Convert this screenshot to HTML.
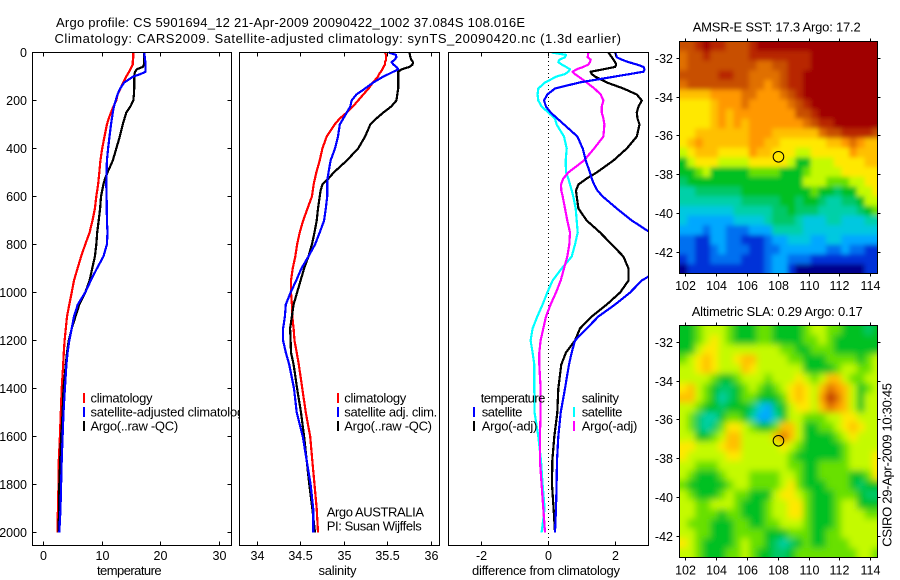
<!DOCTYPE html>
<html>
<head>
<meta charset="utf-8">
<title>Argo profile</title>
<style>
html,body{margin:0;padding:0;background:#fff;}
svg{display:block;}
text{font-family:"Liberation Sans",sans-serif;font-size:13px;fill:#000;}
</style>
</head>
<body>
<svg id="figure" xmlns="http://www.w3.org/2000/svg" width="900" height="580" viewBox="0 0 900 580">
  <defs>
    <clipPath id="clip-diff"><rect x="449" y="53" width="199" height="492"/></clipPath>
    <clipPath id="clip-sst"><rect x="680" y="42" width="197" height="231"/></clipPath>
    <clipPath id="clip-sla"><rect x="680" y="326" width="197" height="231"/></clipPath>
    <filter id="soften-sst" filterUnits="userSpaceOnUse" x="660" y="20" width="240" height="280"><feGaussianBlur stdDeviation="2.4"/></filter>
    <filter id="soften-sla" filterUnits="userSpaceOnUse" x="660" y="300" width="240" height="280"><feGaussianBlur stdDeviation="3.4"/></filter>
  </defs>
  <rect x="0" y="0" width="900" height="580" fill="#fff"/>
  <text x="56" y="27" textLength="469" lengthAdjust="spacing">Argo profile: CS 5901694_12 21-Apr-2009 20090422_1002 37.084S 108.016E</text>
  <text x="54.5" y="43" textLength="566.5" lengthAdjust="spacing">Climatology: CARS2009. Satellite-adjusted climatology: synTS_20090420.nc (1.3d earlier)</text>

  <g id="panel-temp">
    <rect x="32.5" y="52.5" width="199" height="493" fill="#fff"/>
    <g id="temp-lines"></g>
    <g>
      <rect x="83" y="393" width="2" height="10" fill="#ff0000"/>
      <text x="90.5" y="402.5" textLength="62" lengthAdjust="spacing">climatology</text>
      <rect x="83" y="407" width="2" height="10" fill="#0000ff"/>
      <text x="90.5" y="416.5" textLength="160" lengthAdjust="spacing">satellite-adjusted climatology</text>
      <rect x="83" y="421" width="2" height="10" fill="#000"/>
      <text x="90.5" y="430.5" textLength="87.7" lengthAdjust="spacing">Argo(..raw -QC)</text>
    </g>
    <text x="129.3" y="575" text-anchor="middle" textLength="64.7" lengthAdjust="spacing">temperature</text>
  </g>

  <g id="panel-sal">
    <rect x="240" y="52.5" width="199.5" height="493" fill="#fff" stroke="none"/>
    <rect x="239.5" y="52.5" width="200" height="493" fill="none"/>
    <g id="sal-lines"></g>
    <g>
      <rect x="337" y="393" width="2" height="10" fill="#ff0000"/>
      <text x="344.3" y="402.5" textLength="62" lengthAdjust="spacing">climatology</text>
      <rect x="337" y="407" width="2" height="10" fill="#0000ff"/>
      <text x="344.3" y="416.5" textLength="93" lengthAdjust="spacing">satellite adj. clim.</text>
      <rect x="337" y="421" width="2" height="10" fill="#000"/>
      <text x="344.3" y="430.5" textLength="87.7" lengthAdjust="spacing">Argo(..raw -QC)</text>
    </g>
    <text x="326.7" y="516.5" textLength="97.3" lengthAdjust="spacing">Argo AUSTRALIA</text>
    <text x="326.7" y="530.5" textLength="95" lengthAdjust="spacing">PI: Susan Wijffels</text>
    <text x="337.5" y="575" text-anchor="middle" textLength="38" lengthAdjust="spacing">salinity</text>
  </g>

  <g id="panel-diff">
    <rect x="448.5" y="52.5" width="200" height="493" fill="#fff"/>
    <g id="diff-zero"></g>
    <g id="diff-lines" clip-path="url(#clip-diff)"></g>
    <g>
      <text x="480.7" y="402.5" textLength="64.7" lengthAdjust="spacing">temperature</text>
      <rect x="473" y="407" width="2" height="10" fill="#0000ff"/>
      <text x="481.7" y="416.5" textLength="40.7" lengthAdjust="spacing">satellite</text>
      <rect x="473" y="421" width="2" height="10" fill="#000"/>
      <text x="481.7" y="430.5" textLength="55.7" lengthAdjust="spacing">Argo(-adj)</text>
      <text x="581.7" y="402.5" textLength="37.3" lengthAdjust="spacing">salinity</text>
      <rect x="573" y="407" width="2" height="10" fill="#00ffff"/>
      <text x="581.7" y="416.5" textLength="40.7" lengthAdjust="spacing">satellite</text>
      <rect x="573" y="421" width="2" height="10" fill="#ff00ff"/>
      <text x="581.7" y="430.5" textLength="55.7" lengthAdjust="spacing">Argo(-adj)</text>
    </g>
    <text x="546" y="575" text-anchor="middle" textLength="148" lengthAdjust="spacing">difference from climatology</text>
  </g>

  <g id="map-sst">
    <text x="692.7" y="31.5" textLength="168" lengthAdjust="spacing">AMSR-E SST: 17.3 Argo: 17.2</text>
    <g clip-path="url(#clip-sst)"><g id="sst-cells" filter="url(#soften-sst)"></g></g>
  </g>
  <g id="map-sla">
    <text x="691.7" y="316" textLength="171" lengthAdjust="spacing">Altimetric SLA: 0.29 Argo: 0.17</text>
    <g clip-path="url(#clip-sla)"><g id="sla-cells" filter="url(#soften-sla)"></g></g>
  </g>
  <text transform="translate(891.5,546.7) rotate(-90)" x="0" y="0" textLength="163.7" lengthAdjust="spacing">CSIRO 29-Apr-2009 10:30:45</text>
  <g id="axes-layer"></g>
</svg>
<script>
const depths=[0,10,20,30,40,50,60,70,80,90,100,125,150,175,200,225,250,275,300,350,400,450,500,525,550,575,600,650,700,750,800,850,900,950,1000,1050,1100,1150,1200,1250,1300,1400,1500,1600,1700,1800,1900,2000];

const tempClim=[15.3,15.3,15.3,15.25,15.2,15.2,15.0,14.8,14.6,14.35,14.1,13.6,13.1,12.6,12.4,11.9,11.5,11.1,10.8,10.4,10.0,9.7,9.5,9.4,9.3,9.15,9.0,8.75,8.35,7.85,7.1,6.4,5.8,5.2,4.8,4.4,4.0,3.8,3.6,3.45,3.35,3.1,2.95,2.8,2.6,2.55,2.45,2.4];
const tempArgo=[17.15,17.15,17.15,17.15,17.15,17.15,16.9,15.9,15.6,15.5,15.45,15.45,15.45,15.4,15.3,14.8,14.1,13.8,13.5,13,12.4,11.8,10.9,10.5,10.2,10,9.8,9.65,9.4,9.15,9,8.75,8.3,7.85,7.1,6.1,5.45,4.8,4.3,4,3.8,3.4,3.25,3,2.85,2.7,2.65,2.55];
const tempSat=[17.15,17.2,17.25,17.3,17.35,17.4,17.4,17.4,17.4,16.5,15.3,13.75,13.05,12.6,12.3,12,11.8,11.65,11.5,11.25,11,10.8,10.75,10.72,10.7,10.72,10.75,10.78,10.8,10.9,10.8,10.2,9.1,8.05,7.1,5.85,5.2,4.8,4.4,4.1,3.9,3.65,3.4,3.25,3.1,3,2.9,2.7];

const salClim=[35.47,35.48,35.48,35.48,35.47,35.47,35.45,35.44,35.42,35.40,35.39,35.33,35.28,35.22,35.16,35.10,35.03,34.95,34.89,34.80,34.75,34.72,34.68,34.665,34.65,34.64,34.63,34.58,34.53,34.49,34.46,34.44,34.41,34.39,34.39,34.40,34.405,34.42,34.43,34.455,34.48,34.52,34.56,34.61,34.635,34.66,34.685,34.70];
const salArgo=[35.75,35.755,35.76,35.77,35.79,35.785,35.75,35.66,35.62,35.62,35.62,35.62,35.62,35.61,35.6,35.54,35.45,35.37,35.30,35.24,35.16,35.03,34.88,34.82,34.75,34.73,34.72,34.70,34.685,34.66,34.63,34.59,34.54,34.50,34.46,34.42,34.40,34.38,34.385,34.39,34.42,34.46,34.505,34.54,34.57,34.60,34.635,34.665];
const salSat=[35.51,35.595,35.6,35.58,35.545,35.565,35.6,35.62,35.565,35.51,35.45,35.335,35.24,35.14,35.085,35.07,35.03,34.99,34.95,34.93,34.895,34.845,34.82,34.81,34.805,34.805,34.805,34.79,34.77,34.72,34.665,34.59,34.51,34.45,34.385,34.33,34.32,34.30,34.30,34.33,34.37,34.425,34.455,34.525,34.57,34.615,34.645,34.645];

const diffTempSat=[2.0,2.03,2.05,2.2,2.4,2.65,2.85,2.88,2.85,2.43,2.0,0.93,0.2,-0.03,-0.13,-0.07,0.07,0.27,0.47,0.87,1.03,1.12,1.25,1.3,1.37,1.47,1.63,2.05,2.5,3.05,3.6,3.8,3.4,2.8,2.45,2.0,1.5,1.15,0.8,0.7,0.62,0.5,0.37,0.3,0.26,0.25,0.23,0.2];
const diffTempArgo=[1.8,1.85,1.9,1.95,2.0,2.03,2.0,1.65,1.27,1.3,1.4,1.75,2.25,2.65,2.8,2.7,2.65,2.67,2.73,2.65,2.35,1.95,1.45,1.15,0.9,0.83,0.85,0.9,1.15,1.55,1.9,2.25,2.4,2.4,2.15,1.75,1.3,0.95,0.8,0.53,0.39,0.3,0.27,0.18,0.12,0.11,0.16,0.2];
const diffSalSat=[0.1,0.53,0.5,0.33,0.3,0.4,0.53,0.65,0.6,0.5,0.25,-0.1,-0.3,-0.32,-0.3,-0.2,0,0.2,0.25,0.47,0.55,0.52,0.53,0.6,0.65,0.7,0.75,0.82,0.85,0.88,0.8,0.7,0.4,0.13,-0.03,-0.17,-0.33,-0.47,-0.53,-0.47,-0.42,-0.42,-0.41,-0.3,-0.22,-0.17,-0.11,-0.2];
const diffSalArgo=[1.2,1.19,1.18,1.27,1.25,1.2,1.05,0.85,0.73,0.8,0.9,1.15,1.38,1.57,1.65,1.6,1.6,1.65,1.68,1.65,1.37,1.07,0.6,0.45,0.38,0.39,0.43,0.5,0.57,0.65,0.63,0.57,0.47,0.37,0.23,0.07,-0.07,-0.15,-0.23,-0.27,-0.27,-0.23,-0.23,-0.25,-0.25,-0.2,-0.15,-0.1];

const depthTicks=[0,200,400,600,800,1000,1200,1400,1600,1800,2000];
const tempTicks=[0,10,20,30];
const salTicks=['34','34.5','35','35.5','36'];
const diffTicks=[-2,0,2];
const lonTicks=[102,104,106,108,110,112,114];
const latTicks=[-32,-34,-36,-38,-40,-42];

const mapLons=[101.85,102.35,102.85,103.35,103.85,104.35,104.85,105.35,105.85,106.35,106.85,107.35,107.85,108.35,108.85,109.35,109.85,110.35,110.85,111.35,111.85,112.35,112.85,113.35,113.85,114.35];
const mapLats=[-31.37,-31.87,-32.37,-32.87,-33.37,-33.87,-34.37,-34.87,-35.37,-35.87,-36.37,-36.87,-37.37,-37.87,-38.37,-38.87,-39.37,-39.87,-40.37,-40.87,-41.37,-41.87,-42.37,-42.87];
const floatLon=[108.016];
const floatLat=[-37.084];

const colorLevels=['#00008c','#0030d8','#0070f0','#00a8ff','#00c8e0','#00d0a8','#00c868','#00c020','#68e000','#c4fa00','#ffe800','#ffc000','#ff9800','#e07000','#c85000','#b82800','#a00000'];

const sstLevels=[
[14,14,15,16,15,15,14,14,14,15,16,16,16,16,16,16,16,16,16,16,16,16,16,16,16,16],
[13,14,14,15,14,14,14,14,14,15,15,15,15,15,15,15,15,16,16,16,16,16,16,16,16,16],
[13,14,14,14,14,14,14,14,14,14,13,13,14,14,15,15,15,16,16,16,16,16,16,16,16,16],
[14,14,14,14,14,15,15,14,14,13,13,13,13,14,15,15,16,16,16,16,16,16,16,16,16,16],
[13,14,14,14,14,14,14,14,14,13,13,12,13,14,15,15,16,16,16,16,16,16,16,16,16,16],
[11,11,11,11,12,12,12,12,13,13,12,12,12,13,14,15,16,16,16,16,16,16,16,16,16,16],
[10,10,10,10,11,12,12,12,13,12,12,12,12,12,13,14,15,16,16,16,16,16,16,16,16,16],
[10,10,10,10,11,12,11,12,12,12,12,12,12,12,12,14,14,15,16,16,16,16,16,16,16,16],
[10,10,10,10,11,12,11,12,11,12,12,12,12,12,12,12,13,14,15,15,16,16,16,16,16,16],
[10,10,11,11,11,11,11,11,11,12,12,12,11,11,11,11,11,11,13,14,14,15,15,15,15,14],
[10,11,12,11,11,11,11,11,11,12,12,11,11,10,10,10,10,10,10,11,11,12,13,12,11,11],
[9,10,11,11,11,10,10,10,10,12,11,11,10,10,10,9,9,10,10,10,10,10,12,11,11,11],
[7,9,10,10,10,9,9,9,9,10,10,10,10,10,9,7,7,9,9,9,10,10,10,10,11,11],
[7,7,8,9,7,7,7,7,7,8,8,8,8,7,7,7,8,9,9,9,9,10,10,10,10,10],
[6,7,7,7,7,7,7,7,7,7,7,7,7,7,7,7,9,9,9,8,8,8,9,9,10,10],
[5,5,6,6,6,6,6,6,7,7,7,7,7,7,7,7,7,8,7,7,6,7,7,9,9,10],
[5,5,5,5,5,5,5,5,6,6,6,6,6,7,7,6,7,7,6,5,5,6,6,7,9,9],
[4,4,4,4,4,4,4,5,5,5,5,5,6,6,7,6,6,6,5,5,5,5,5,6,7,8],
[4,3,3,3,3,3,3,4,4,4,4,5,6,6,6,5,4,4,4,5,5,4,4,4,5,5],
[3,3,3,2,3,3,2,2,2,3,3,3,5,5,5,5,4,4,4,4,4,4,4,4,4,4],
[2,2,1,1,3,3,2,2,1,1,1,2,3,3,4,4,4,3,3,4,4,3,3,3,3,3],
[2,2,1,1,2,3,2,2,2,1,1,2,2,3,3,3,3,3,3,2,2,3,2,2,1,1],
[1,2,1,1,2,2,2,2,1,1,1,2,3,3,2,2,2,1,1,1,1,1,1,1,1,1],
[0,1,1,1,1,1,1,1,1,1,1,2,3,3,1,0,0,0,0,0,0,0,0,0,1,1]
];

const slaLevels=[
[7,7,8,9,9,9,8,7,7,7,8,8,7,7,7,7,8,9,9,8,8,7,7,7,6,7],
[7,7,8,9,10,9,8,7,7,7,8,8,7,7,7,7,8,8,9,8,7,7,7,7,7,7],
[7,7,9,10,10,9,9,9,9,9,9,9,9,8,8,7,7,8,8,8,7,7,7,7,7,7],
[8,9,10,11,10,9,9,10,11,11,9,9,9,9,8,8,7,7,7,8,8,8,8,7,8,9],
[9,9,10,11,10,9,9,9,11,10,9,9,9,9,9,9,7,7,7,7,8,9,9,8,8,9],
[9,9,9,9,8,7,7,8,9,9,9,8,9,9,9,10,9,8,9,11,11,9,8,8,9,9],
[10,11,9,8,7,6,6,7,8,9,8,7,8,9,10,11,10,9,11,13,12,11,9,7,8,9],
[11,11,9,8,7,5,6,7,8,8,7,7,7,8,10,11,10,9,12,15,13,11,9,7,9,9],
[9,9,8,7,7,6,7,7,7,6,4,3,6,7,9,10,10,9,11,13,12,11,9,7,9,9],
[9,8,6,5,5,7,8,8,7,5,3,3,5,7,9,9,8,8,8,9,9,10,10,9,9,9],
[9,8,6,5,6,8,10,10,9,8,7,7,8,11,11,9,7,7,8,8,9,10,11,10,9,9],
[9,9,7,7,8,9,11,11,9,9,9,9,11,13,11,9,7,7,7,7,8,9,10,9,9,9],
[10,10,9,9,9,10,11,11,9,9,9,9,9,10,9,8,7,7,7,7,7,8,9,9,9,9],
[10,9,9,9,9,9,10,10,9,9,9,9,9,9,8,7,7,7,7,7,7,8,9,9,9,10],
[9,9,8,8,8,9,9,9,9,9,9,9,9,9,8,8,7,7,8,8,8,8,9,9,9,10],
[9,8,7,7,7,8,9,9,9,8,8,8,8,9,9,8,7,7,8,8,8,8,7,7,8,10],
[8,7,7,7,7,7,8,9,9,8,8,8,8,9,10,8,7,7,7,8,8,8,7,6,7,7],
[9,8,7,7,7,8,9,8,8,7,7,7,9,10,10,9,8,7,7,7,8,8,8,7,6,6],
[9,9,8,8,9,9,9,8,7,7,7,8,9,9,10,10,8,7,7,7,8,9,9,7,7,7],
[9,9,8,8,8,7,8,8,7,7,7,8,9,9,10,10,8,7,7,7,8,9,9,9,8,8],
[9,8,8,8,7,7,7,8,8,7,7,8,8,9,9,9,8,7,7,7,8,9,9,9,9,9],
[9,9,8,8,7,7,7,8,8,8,8,7,7,7,8,8,8,7,7,8,8,9,9,9,9,9],
[10,9,8,7,7,7,7,8,9,8,8,7,6,5,6,7,8,7,7,8,8,8,9,9,9,9],
[9,9,8,7,7,7,8,8,9,8,7,7,6,6,7,8,8,8,8,8,8,8,8,9,9,8]
];

const NS='http://www.w3.org/2000/svg';
const depthY=d=>52.5+0.24*d;
const tempX=v=>43.5+5.87*v;
const salX=v=>257+87.15*(v-34);
const diffX=v=>548.3+33.4*v;
const lonX=lon=>685.7+(lon-102)*15.42;
const sstY=lat=>58.3+(-32-lat)*19.37;
const slaY=lat=>342.3+(-32-lat)*19.37;

function make(tag,parent,attrs){
  const el=document.createElementNS(NS,tag);
  for(const k in attrs){el.setAttribute(k,attrs[k]);}
  parent.appendChild(el);
  return el;
}

function drawProfile(parentId,xFn,values,color,name){
  const pts=values.map((v,i)=>xFn(v).toFixed(1)+','+depthY(depths[i]).toFixed(1)).join(' ');
  const line=make('polyline',document.getElementById(parentId),{points:pts,fill:'none',stroke:color,'stroke-width':2.2,'shape-rendering':'crispEdges','stroke-linejoin':'round'});
  
  
}

drawProfile('temp-lines',tempX,tempClim,'#ff0000','temperature-climatology-line');
drawProfile('temp-lines',tempX,tempArgo,'#000000','temperature-argo-line');
drawProfile('temp-lines',tempX,tempSat,'#0000ff','temperature-satellite-line');
drawProfile('sal-lines',salX,salClim,'#ff0000','salinity-climatology-line');
drawProfile('sal-lines',salX,salArgo,'#000000','salinity-argo-line');
drawProfile('sal-lines',salX,salSat,'#0000ff','salinity-satellite-line');
drawProfile('diff-lines',diffX,diffTempArgo,'#000000','difference-temperature-argo-line');
drawProfile('diff-lines',diffX,diffSalSat,'#00ffff','difference-salinity-satellite-line');
drawProfile('diff-lines',diffX,diffSalArgo,'#ff00ff','difference-salinity-argo-line');
drawProfile('diff-lines',diffX,diffTempSat,'#0000ff','difference-temperature-satellite-line');

const zeroLine=make('line',document.getElementById('diff-zero'),{x1:Math.round(diffX(0))+0.5,x2:Math.round(diffX(0))+0.5,y1:53,y2:545,stroke:'#000','stroke-width':1,'stroke-dasharray':'1 3','shape-rendering':'crispEdges'});



function drawMap(parentId,levels,yFn,name){
  const parent=document.getElementById(parentId);
  levels.forEach((row,j)=>{
    row.forEach((level,i)=>{
      const x0=lonX(mapLons[i]-0.25), x1=lonX(mapLons[i]+0.25);
      const y0=yFn(mapLats[j]+0.25), y1=yFn(mapLats[j]-0.25);
      const left=i===0?x0-12:x0;
      const right=i===row.length-1?x1+12:x1;
      const top=j===0?y0-12:y0;
      const bottom=j===levels.length-1?y1+12:y1;
      const cell=make('rect',parent,{x:left.toFixed(2),y:top.toFixed(2),width:(right-left+0.6).toFixed(2),height:(bottom-top+0.6).toFixed(2),fill:colorLevels[level]});
      
      
    });
  });
}
drawMap('sst-cells',sstLevels,sstY,'sst-cell');
drawMap('sla-cells',slaLevels,slaY,'sla-cell');

const axes=document.getElementById('axes-layer');
const BLACK='#000';

function frame(x,y,w,h,name){
  const r=make('rect',axes,{x:x,y:y,width:w,height:h,fill:'none',stroke:BLACK,'stroke-width':1,'shape-rendering':'crispEdges'});
  
  
}
function tick(x1,y1,x2,y2,name){
  const t=make('line',axes,{x1:x1,y1:y1,x2:x2,y2:y2,stroke:BLACK,'stroke-width':1,'shape-rendering':'crispEdges'});
  
  
}
function label(x,y,anchor,str,name){
  const t=make('text',axes,{x:x,y:y,'text-anchor':anchor,style:'font-size:12.5px'});
  t.textContent=str;
  
  
}
const snap=v=>Math.round(v-0.5)+0.5;

frame(32.5,52.5,199,493,'temperature-plot-frame');
frame(239.5,52.5,200,493,'salinity-plot-frame');
frame(448.5,52.5,200,493,'difference-plot-frame');
frame(679.5,41.5,198,232,'sst-map-frame');
frame(679.5,325.5,198,232,'sla-map-frame');

depthTicks.forEach(d=>{
  const y=snap(depthY(d));
  tick(32.5,y,36.5,y,'depth-tick-left');
  tick(227.5,y,231.5,y,'depth-tick-right');
  label(27,y+4.5,'end',String(d),'depth-tick-label');
});
function xTicks(values,xFn,name){
  values.forEach(v=>{
    const x=snap(xFn(Number(v)));
    tick(x,52.5,x,56.5,name+'-tick-top');
    tick(x,541.5,x,545.5,name+'-tick-bottom');
    label(x,560,'middle',String(v),name+'-tick-label');
  });
}
xTicks(tempTicks,tempX,'temperature');
xTicks(salTicks,salX,'salinity');
xTicks(diffTicks,diffX,'difference');

function mapAxes(yFn,top,bottom,name,labelY){
  lonTicks.forEach(lon=>{
    const x=snap(lonX(lon));
    tick(x,top-3,x,top,name+'-lon-tick-top');
    tick(x,bottom,x,bottom+3,name+'-lon-tick-bottom');
    label(x,labelY,'middle',String(lon),name+'-lon-label');
  });
  latTicks.forEach(lat=>{
    const y=snap(yFn(lat));
    tick(676.5,y,679.5,y,name+'-lat-tick-left');
    tick(877.5,y,880.5,y,name+'-lat-tick-right');
    label(673,y+4.5,'end',String(lat),name+'-lat-label');
  });
}
mapAxes(sstY,41.5,273.5,'sst',290);
mapAxes(slaY,325.5,557.5,'sla',574.5);

const sstMarker=make('circle',axes,{cx:lonX(floatLon[0]),cy:sstY(floatLat[0]),r:5.3,fill:'none',stroke:BLACK,'stroke-width':1});


const slaMarker=make('circle',axes,{cx:lonX(floatLon[0]),cy:slaY(floatLat[0]),r:5.3,fill:'none',stroke:BLACK,'stroke-width':1});


</script>
</body>
</html>
